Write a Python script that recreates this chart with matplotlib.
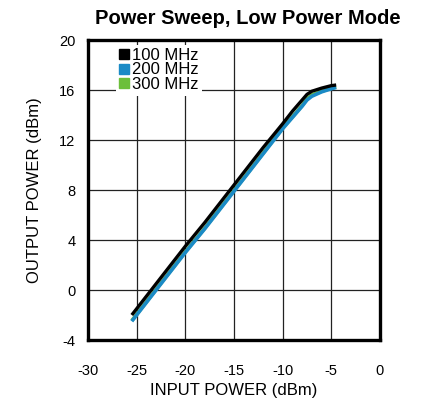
import matplotlib
matplotlib.use('Agg')
import matplotlib.pyplot as plt
from matplotlib.lines import Line2D

plt.rcParams['font.family'] = ['Liberation Sans', 'DejaVu Sans']
plt.rcParams['axes.unicode_minus'] = False

# データ
pin = [-25.5, -24, -22, -20, -18, -16, -14, -12, -10, -9, -8, -7.5, -7, -6, -5, -4.5]
pout_100 = [-2.0, -0.5, 1.5, 3.5, 5.4, 7.4, 9.4, 11.4, 13.3, 14.3, 15.2, 15.65, 15.9, 16.15, 16.35, 16.4]
pout_200 = [-2.5, -1.0, 1.0, 3.0, 4.9, 6.9, 8.9, 10.9, 12.9, 13.8, 14.7, 15.2, 15.5, 15.85, 16.1, 16.2]
pout_300 = [-2.45, -0.95, 1.05, 3.05, 4.95, 6.95, 8.95, 10.95, 12.95, 13.85, 14.75, 15.3, 15.6, 15.9, 16.15, 16.25]
labels = ['100 MHz', '200 MHz', '300 MHz']
colors = ['#000000', '#1a8ac6', '#6cbf3a']
xticks = [-30, -25, -20, -15, -10, -5, 0]
yticks = [-4, 0, 4, 8, 12, 16, 20]

fig = plt.figure(figsize=(4.21, 4.04), dpi=100)
ax = fig.add_axes([88/421, 1 - 340/404, 292/421, 300/404])

ax.plot(pin, pout_300, color=colors[2], lw=2.6, solid_capstyle='butt')
ax.plot(pin, pout_200, color=colors[1], lw=2.6, solid_capstyle='butt')
ax.plot(pin, pout_100, color=colors[0], lw=2.4, solid_capstyle='butt')

ax.set_xlim(-30, 0)
ax.set_ylim(-4, 20)
ax.set_xticks(xticks)
ax.set_yticks(yticks)
ax.tick_params(length=0, labelsize=10.5)
ax.tick_params(axis='x', pad=17)
ax.tick_params(axis='y', pad=9)
ax.grid(True, color='#222222', lw=0.9)
for s in ax.spines.values():
    s.set_linewidth(2.4)
    s.set_color('black')

ax.set_xlabel('INPUT POWER (dBm)', fontsize=12, labelpad=4)
ax.set_ylabel('OUTPUT POWER (dBm)', fontsize=12, labelpad=12)
fig.text(248/421, 1 - 19/404, 'Power Sweep, Low Power Mode', fontsize=14.5,
         fontweight='bold', ha='center', va='center')

handles = [Line2D([], [], ls='none', marker='s', markersize=7, color=c) for c in colors]
leg = ax.legend(handles, labels, loc='upper left', bbox_to_anchor=(0.095, 0.985),
                frameon=True, fontsize=12, handlelength=0.6, handletextpad=0.15,
                labelspacing=-0.02, borderpad=0.2, borderaxespad=0)
leg.get_frame().set_edgecolor('none')
leg.get_frame().set_facecolor('white')
leg.get_frame().set_alpha(1)
leg.get_frame().set_boxstyle('square', pad=0)

fig.savefig('out.png', dpi=100)
